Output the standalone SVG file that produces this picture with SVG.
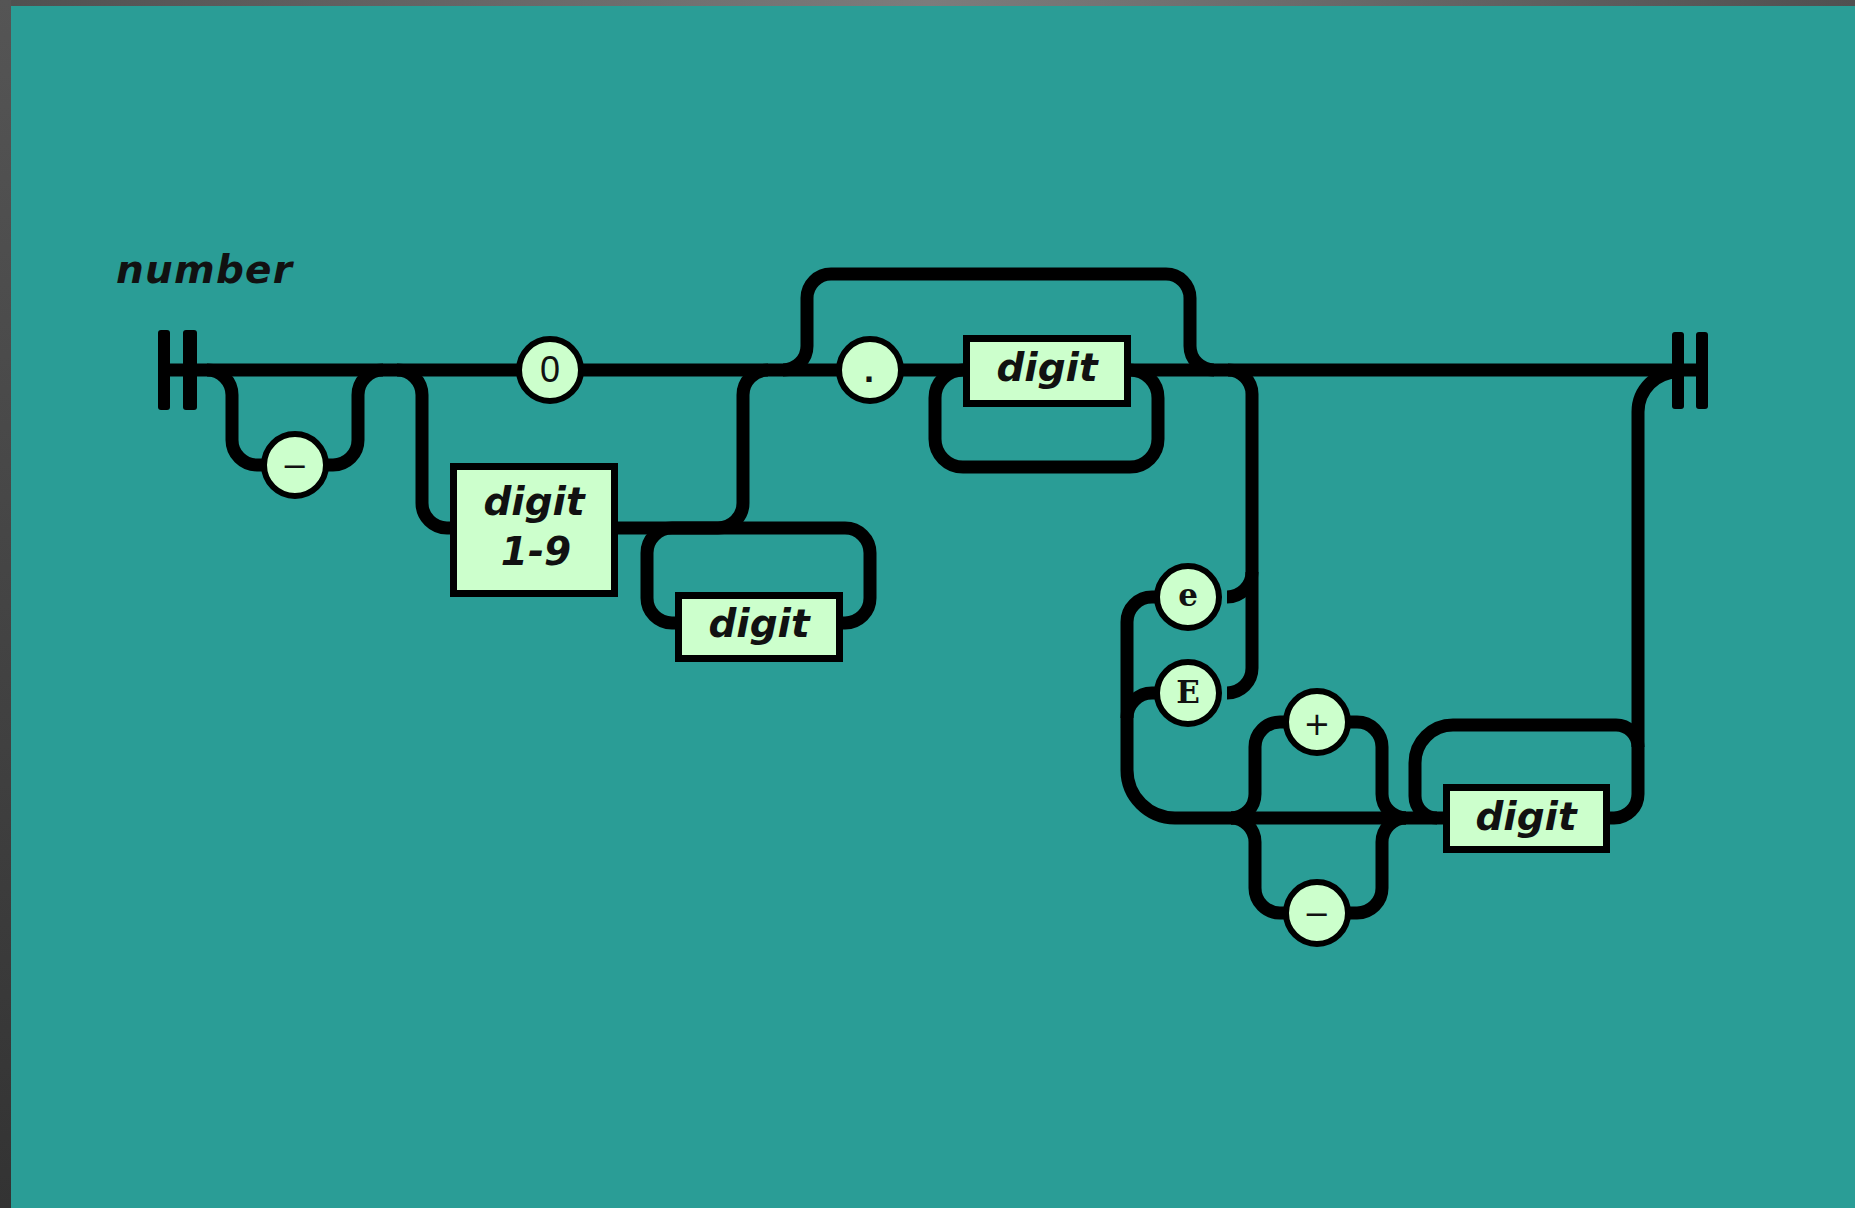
<svg xmlns="http://www.w3.org/2000/svg" width="1855" height="1208" viewBox="0 0 1855 1208">
  <defs>
    <linearGradient id="topEdge" x1="0" y1="0" x2="1" y2="0">
      <stop offset="0" stop-color="#505050"/>
      <stop offset="0.5" stop-color="#7c7c7c"/>
      <stop offset="1" stop-color="#505050"/>
    </linearGradient>
    <linearGradient id="leftEdge" x1="0" y1="0" x2="0" y2="1">
      <stop offset="0" stop-color="#555555"/>
      <stop offset="1" stop-color="#333333"/>
    </linearGradient>
  </defs>
  <style>
    .wire { fill: none; stroke: #000; stroke-width: 13; }
    .bar { fill: #000; }
    .term circle { fill: #ccffcc; stroke: #000; stroke-width: 6; }
    .nonterm rect { fill: #ccffcc; stroke: #000; stroke-width: 7; }
    .name { font-family: "DejaVu Sans", "Liberation Sans", sans-serif; font-weight: bold; font-style: italic; fill: #111; }
    .nonterm text { font-family: "DejaVu Sans", "Liberation Sans", sans-serif; font-weight: bold; font-style: italic; font-size: 39px; text-anchor: middle; fill: #111; }
    .sans { font-family: "Liberation Sans", Arial, sans-serif; font-size: 36px; text-anchor: middle; fill: #111; }
    .sym { font-family: "DejaVu Sans", sans-serif; font-size: 32px; text-anchor: middle; fill: #111; }
    .serif { font-family: "DejaVu Serif", "Liberation Serif", serif; font-weight: bold; font-size: 31px; text-anchor: middle; fill: #111; }
  </style>

  <!-- backdrop and frame edges -->
  <rect x="0" y="0" width="1855" height="1208" fill="#2a9d96"/>
  <rect x="0" y="0" width="1855" height="6" fill="url(#topEdge)"/>
  <rect x="0" y="0" width="11" height="1208" fill="url(#leftEdge)"/>

  <!-- rule name -->
  <text class="name" x="116" y="283" font-size="39" textLength="176" lengthAdjust="spacing">number</text>

  <!-- track -->
  <g id="connectors">
    <!-- main line -->
    <path class="wire" d="M158,370 H1708"/>
    <!-- optional leading minus -->
    <path class="wire" d="M207,370 A25,25 0 0 1 232,395 V440 A25,25 0 0 0 257,465 H333 A25,25 0 0 0 358,440 V395 A25,25 0 0 1 383,370"/>
    <!-- digit 1-9 branch -->
    <path class="wire" d="M397,370 A25,25 0 0 1 422,395 V503 A25,25 0 0 0 447,528 H718 A25,25 0 0 0 743,503 V395 A25,25 0 0 1 768,370"/>
    <!-- repeat loop for trailing digits -->
    <rect class="wire" x="647" y="528" width="223" height="95" rx="25"/>
    <!-- bypass over fraction -->
    <path class="wire" d="M783,370 A24,24 0 0 0 807,346 V298 A24,24 0 0 1 831,274 H1166 A24,24 0 0 1 1190,298 V346 A24,24 0 0 0 1214,370"/>
    <!-- repeat loop for fraction digits -->
    <rect class="wire" x="935" y="370" width="223" height="97" rx="28"/>
    <!-- exponent drop -->
    <path class="wire" d="M1228,370 A24,24 0 0 1 1252,394 V668 A25,25 0 0 1 1227,693"/>
    <path class="wire" d="M1252,572 A25,25 0 0 1 1227,597"/>
    <path class="wire" d="M1155,597 H1152 A25,25 0 0 0 1127,622 V770 A48,48 0 0 0 1175,818 H1450"/>
    <path class="wire" d="M1155,693 H1152 A25,25 0 0 0 1127,718"/>
    <!-- sign choice -->
    <path class="wire" d="M1231,818 A24,24 0 0 0 1255,794 V747 A25,25 0 0 1 1280,722 H1357 A25,25 0 0 1 1382,747 V794 A24,24 0 0 0 1406,818"/>
    <path class="wire" d="M1231,818 A24,24 0 0 1 1255,842 V888 A25,25 0 0 0 1280,913 H1357 A25,25 0 0 0 1382,888 V842 A24,24 0 0 1 1406,818"/>
    <!-- repeat loop for exponent digits -->
    <path class="wire" d="M1437,818 A22,22 0 0 1 1415,796 V763 A38,38 0 0 1 1453,725 H1616 A22,22 0 0 1 1638,747"/>
    <!-- return to main line -->
    <path class="wire" d="M1600,818 H1614 A24,24 0 0 0 1638,794 V412 A40,40 0 0 1 1678,372"/>
  </g>

  <!-- start and end markers -->
  <g id="start">
    <rect class="bar" x="158" y="330" width="12" height="80" rx="3"/>
    <rect class="bar" x="183" y="330" width="14" height="80" rx="3"/>
  </g>
  <g id="end">
    <rect class="bar" x="1672" y="332" width="12" height="77" rx="3"/>
    <rect class="bar" x="1696" y="332" width="12" height="77" rx="3"/>
  </g>

  <!-- terminals -->
  <g id="minus-sign" class="term">
    <circle cx="295" cy="465" r="31"/>
    <text class="sym" x="295" y="477">−</text>
  </g>
  <g id="zero" class="term">
    <circle cx="550" cy="370" r="31"/>
    <text class="sans" x="550" y="382">0</text>
  </g>
  <g id="point" class="term">
    <circle cx="870" cy="370" r="31"/>
    <text class="sans" x="869" y="382" font-weight="bold">.</text>
  </g>
  <g id="exp-lower" class="term">
    <circle cx="1188" cy="597" r="31"/>
    <text class="serif" x="1188" y="606">e</text>
  </g>
  <g id="exp-upper" class="term">
    <circle cx="1188" cy="693" r="31"/>
    <text class="serif" x="1188" y="703">E</text>
  </g>
  <g id="plus" class="term">
    <circle cx="1317" cy="722" r="31"/>
    <text class="sym" x="1317" y="735">+</text>
  </g>
  <g id="minus-exp" class="term">
    <circle cx="1317" cy="913" r="31"/>
    <text class="sym" x="1317" y="925">−</text>
  </g>

  <!-- nonterminals -->
  <g id="digit-1-9" class="nonterm">
    <rect x="453.5" y="466.5" width="161" height="127"/>
    <text x="534" y="515">digit</text>
    <text x="536" y="565">1-9</text>
  </g>
  <g id="digit-int" class="nonterm">
    <rect x="678.5" y="595.5" width="161" height="63"/>
    <text x="759" y="637">digit</text>
  </g>
  <g id="digit-frac" class="nonterm">
    <rect x="966.5" y="338.5" width="161" height="65"/>
    <text x="1047" y="381">digit</text>
  </g>
  <g id="digit-exp" class="nonterm">
    <rect x="1446.5" y="787.5" width="160" height="62"/>
    <text x="1526" y="830">digit</text>
  </g>
</svg>
